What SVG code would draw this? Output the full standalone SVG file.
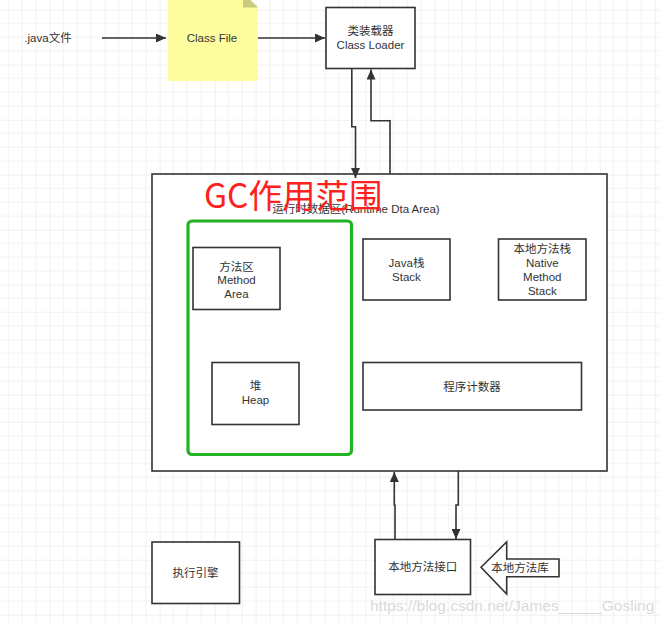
<svg xmlns="http://www.w3.org/2000/svg" width="660" height="623" viewBox="0 0 660 623">
<defs>
<pattern id="grid" x="-5.3" y="9.7" width="55" height="55" patternUnits="userSpaceOnUse">
<path d="M13.75,0V55M27.5,0V55M41.25,0V55M0,13.75H55M0,27.5H55M0,41.25H55" stroke="#f1f1f1" stroke-width="1" fill="none"/>
<path d="M0,0V55M0,0H55" stroke="#e3e3e3" stroke-width="1" fill="none"/>
</pattern>
<marker id="arr" markerUnits="userSpaceOnUse" markerWidth="11" markerHeight="9" refX="10" refY="4.5" orient="auto">
<path d="M0,0L10,4.5L0,9z" fill="#333"/>
</marker>
<style>
.box{fill:#fff;stroke:#333;stroke-width:1.6}
.t{font-family:"Liberation Sans","Noto Sans CJK SC",sans-serif;font-size:11.5px;fill:#333;text-anchor:middle}
.c{fill:none;stroke:#333;stroke-width:1.6}
</style>
</defs>
<rect width="660" height="623" fill="#fff"/>
<rect width="660" height="623" fill="url(#grid)"/>

<g id="java-file">
<text class="t" x="48" y="42">.java文件</text>
</g>

<g id="class-file">
<polygon points="168,-7.5 243,-7.5 258,7.5 258,81 168,81" fill="#fffe9f"/>
<polygon points="243,-7.5 243,7.5 258,7.5" fill="#cbc880"/>
<text class="t" x="212" y="42">Class File</text>
</g>

<g id="class-loader">
<rect class="box" x="326" y="7.5" width="89" height="61"/>
<text class="t" x="370.5" y="35">类装载器</text>
<text class="t" x="370.5" y="49">Class Loader</text>
</g>

<g id="runtime-data-area">
<rect class="box" x="152" y="174" width="455" height="297"/>
<text class="t" x="356" y="213">运行时数据区(Runtime Dta Area)</text>
</g>

<g id="method-area">
<rect class="box" x="193" y="247.5" width="87" height="62"/>
<text class="t" x="236.5" y="270.5">方法区</text>
<text class="t" x="236.5" y="284">Method</text>
<text class="t" x="236.5" y="298">Area</text>
</g>

<g id="heap">
<rect class="box" x="212" y="362.5" width="87" height="62"/>
<text class="t" x="255.5" y="390">堆</text>
<text class="t" x="255.5" y="404">Heap</text>
</g>

<g id="java-stack">
<rect class="box" x="363" y="239" width="87" height="61"/>
<text class="t" x="406.5" y="267">Java栈</text>
<text class="t" x="406.5" y="281">Stack</text>
</g>

<g id="native-method-stack">
<rect class="box" x="498.5" y="239" width="87.5" height="61"/>
<text class="t" x="542.3" y="253">本地方法栈</text>
<text class="t" x="542.3" y="267">Native</text>
<text class="t" x="542.3" y="281">Method</text>
<text class="t" x="542.3" y="295">Stack</text>
</g>

<g id="program-counter">
<rect class="box" x="363" y="362.5" width="218.5" height="47.5"/>
<text class="t" x="472" y="391">程序计数器</text>
</g>

<g id="gc-scope">
<rect x="188" y="221" width="163.5" height="233.5" rx="4" ry="4" fill="none" stroke="#22b222" stroke-width="3.2"/>
<text x="204" y="207.5" font-family="'Noto Sans CJK SC','Liberation Sans',sans-serif" font-size="33.5" fill="#ff2020">GC作用范围</text>
</g>

<g id="execution-engine">
<rect class="box" x="152" y="542" width="87.5" height="61.5"/>
<text class="t" x="195.5" y="577">执行引擎</text>
</g>

<g id="native-interface">
<rect class="box" x="375" y="539.5" width="95.5" height="55"/>
<text class="t" x="422.7" y="571">本地方法接口</text>
</g>

<g id="native-library">
<polygon class="box" points="481,567.3 506.7,542 506.7,559 559,559 559,576.7 506.7,576.7 506.7,594"/>
<text class="t" x="520" y="571.5">本地方法库</text>
</g>

<g id="connectors">
<path class="c" d="M102,38H166" marker-end="url(#arr)"/>
<path class="c" d="M258,38H325" marker-end="url(#arr)"/>
<path class="c" d="M351.8,68.5V126.7H355.5V178" marker-end="url(#arr)"/>
<path class="c" d="M390,174V120.7H371V69.5" marker-end="url(#arr)"/>
<path class="c" d="M458.3,471V505H456V539" marker-end="url(#arr)"/>
<path class="c" d="M395,539.5V505H394.3V472" marker-end="url(#arr)"/>
</g>

<text x="370" y="611" font-family="'Liberation Sans',sans-serif" font-size="15.5" fill="#d0d0d0" fill-opacity="0.8">https://blog.csdn.net/James_____Gosling</text>
</svg>
